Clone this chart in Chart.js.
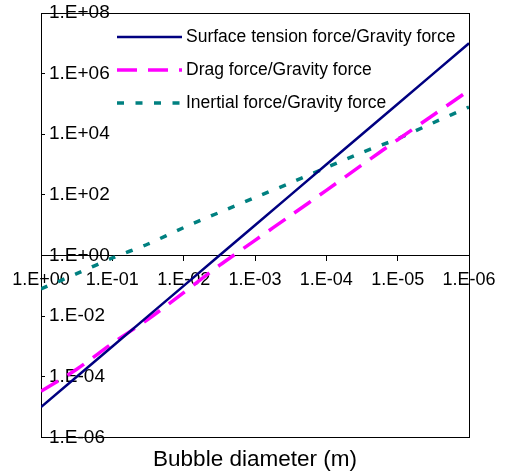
<!DOCTYPE html>
<html>
<head>
<meta charset="utf-8">
<script src="https://cdn.jsdelivr.net/npm/chart.js@4/dist/chart.umd.min.js"></script>
<style>
  html, body { margin: 0; padding: 0; background: #fff; }
  #wrap { position: relative; width: 507px; height: 475px; }
  #legend { position: absolute; left: 117px; top: 20px; font: 17.5px Arial, "Liberation Sans", sans-serif; color: #000; }
  .row { display: flex; align-items: center; height: 33px; white-space: nowrap; }
  .row svg { margin-right: 4px; }
</style>
</head>
<body>
<div id="wrap">
  <canvas id="c" width="507" height="475"></canvas>
  <div id="legend"></div>
</div>
<script>
const FONT = "Arial, 'Liberation Sans', sans-serif";

// bubble diameter (m), half-decade steps from 1 m down to 1 micron
const diameters = [1, 3.16e-1, 1e-1, 3.16e-2, 1e-2, 3.16e-3, 1e-3, 3.16e-4, 1e-4, 3.16e-5, 1e-5, 3.16e-6, 1e-6];
const surfaceRatio = [1e-5, 1e-4, 1e-3, 1e-2, 1e-1, 1, 10, 100, 1e3, 1e4, 1e5, 1e6, 1e7];
const dragRatio = [3.3e-5, 1.78e-4, 1.26e-3, 7.9e-3, 6.0e-2, 0.47, 3.16, 20.9, 141, 977, 6600, 4.3e4, 2.8e5];
const inertialRatio = [0.079, 0.251, 0.83, 2.4, 8.3, 26.3, 81.3, 251, 794, 2510, 7080, 2.4e4, 7.94e4];
const seriesNames = ["Surface tension force/Gravity force", "Drag force/Gravity force", "Inertial force/Gravity force"];
const xTicks = [1, 1e-1, 1e-2, 1e-3, 1e-4, 1e-5, 1e-6];
const yTicks = [1e-6, 1e-4, 1e-2, 1, 1e2, 1e4, 1e6, 1e8];
const xTitle = "Bubble diameter (m)";

function pairs(vals) {
  return diameters.map((d, i) => ({ x: d, y: vals[i] }));
}

function fmtExp(v) {
  const e = Math.round(Math.log10(v));
  return "1.E" + (e < 0 ? "-" : "+") + String(Math.abs(e)).padStart(2, "0");
}

const frame = {
  id: "frame",
  beforeDatasetsDraw(chart) {
    const { ctx, chartArea: a } = chart;
    ctx.save();
    ctx.strokeStyle = "#000";
    ctx.lineWidth = 1;
    ctx.strokeRect(Math.round(a.left) + 0.5, Math.round(a.top) + 0.5, Math.round(a.right - a.left), Math.round(a.bottom - a.top));
    ctx.restore();
  }
};

const chart = new Chart(document.getElementById("c"), {
  type: "line",
  data: {
    datasets: [
      { label: seriesNames[0], data: pairs(surfaceRatio), borderColor: "#000080", borderWidth: 2.5, pointRadius: 0, tension: 0 },
      { label: seriesNames[1], data: pairs(dragRatio), borderColor: "#FF00FF", borderWidth: 3.5, borderDash: [20, 11], pointRadius: 0, tension: 0.3 },
      { label: seriesNames[2], data: pairs(inertialRatio), borderColor: "#008080", borderWidth: 3.5, borderDash: [7, 11.5], pointRadius: 0, tension: 0.3 }
    ]
  },
  options: {
    responsive: false,
    animation: false,
    devicePixelRatio: 1,
    layout: { padding: { left: 41, right: 38, top: 13, bottom: 1.6 } },
    plugins: {
      legend: { display: false },
      tooltip: { enabled: false },
      title: {
        display: true, position: "bottom", text: xTitle, color: "#000",
        font: { family: FONT, size: 22.5, weight: "normal" },
        padding: { top: 9, bottom: 0 }
      }
    },
    scales: {
      x: {
        type: "logarithmic", reverse: true, min: 1e-6, max: 1,
        position: { y: 1 },
        afterBuildTicks: (s) => { s.ticks = xTicks.map(v => ({ value: v })); },
        afterFit: (s) => { s.height = 0; s.paddingTop = 0; s.paddingBottom = 0; },
        grid: { display: true, drawOnChartArea: false, tickLength: 5, color: "#000" },
        border: { display: true, color: "#000", width: 1 },
        ticks: { callback: (v) => fmtExp(v), color: "#000", font: { family: FONT, size: 18 }, padding: 9, maxRotation: 0, autoSkip: false }
      },
      y: {
        type: "logarithmic", min: 1e-6, max: 1e8, position: "left",
        afterBuildTicks: (s) => { s.ticks = yTicks.map(v => ({ value: v })); },
        afterFit: (s) => { s.width = 0; s.paddingTop = 0; s.paddingBottom = 0; },
        grid: { display: true, drawOnChartArea: false, tickLength: -4, color: "#000" },
        border: { display: true, color: "#000", width: 1 },
        ticks: { mirror: true, callback: (v) => fmtExp(v), color: "#000", font: { family: FONT, size: 19 }, padding: 8, autoSkip: false }
      }
    }
  },
  plugins: [frame]
});

// legend drawn as html over the plot
const legendEl = document.getElementById("legend");
chart.data.datasets.forEach(ds => {
  const dash = ds.borderDash ? ds.borderDash.join(" ") : "none";
  const row = document.createElement("div");
  row.className = "row";
  row.innerHTML = `<svg width="65" height="8"><line x1="0" y1="4" x2="65" y2="4" stroke="${ds.borderColor}" stroke-width="${ds.borderWidth}" stroke-dasharray="${dash}"/></svg><span>${ds.label}</span>`;
  legendEl.appendChild(row);
});
</script>
</body>
</html>
